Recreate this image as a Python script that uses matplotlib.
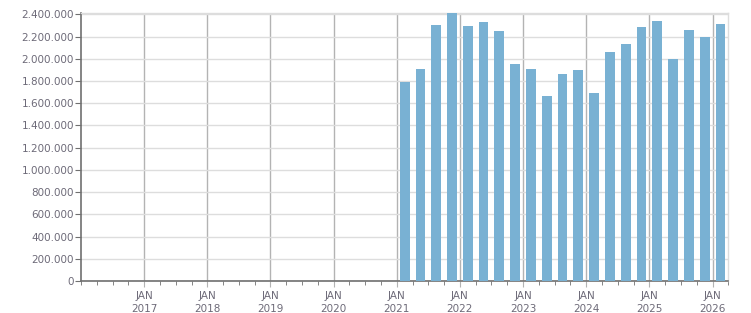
import matplotlib
matplotlib.use('Agg')
import matplotlib.pyplot as plt
from matplotlib.ticker import FuncFormatter, MultipleLocator

# quarterly values, 2021 Q1 .. 2026 Q1
quarters = ["2021-Q1", "2021-Q2", "2021-Q3", "2021-Q4",
            "2022-Q1", "2022-Q2", "2022-Q3", "2022-Q4",
            "2023-Q1", "2023-Q2", "2023-Q3", "2023-Q4",
            "2024-Q1", "2024-Q2", "2024-Q3", "2024-Q4",
            "2025-Q1", "2025-Q2", "2025-Q3", "2025-Q4",
            "2026-Q1"]
values = [1795000, 1913000, 2301000, 2409000,
          2292000, 2328000, 2247000, 1958000,
          1913000, 1669000, 1868000, 1904000,
          1696000, 2066000, 2138000, 2283000,
          2337000, 2003000, 2256000, 2193000,
          2310000]
year_ticks = list(range(2017, 2027))
y_ticks = list(range(0, 2400001, 200000))

# quarter -> decimal year at the middle of the quarter
xpos = [int(q[:4]) + (int(q[-1]) - 1) * 0.25 + 0.125 for q in quarters]

fig = plt.figure(figsize=(7.51, 3.13), dpi=100)
ax = fig.add_axes([81 / 751, 32 / 313, (728.3 - 81) / 751, (281 - 13.3) / 313])

ax.bar(xpos, values, width=0.155, color='#79b1d3', zorder=3)

ax.set_xlim(2016.0, 2026.25)
ax.set_ylim(0, 2410000)

txt_color = '#6d6a78'
ax.set_yticks(y_ticks)
ax.yaxis.set_major_formatter(FuncFormatter(lambda v, p: f"{int(v):,}".replace(",", ".")))
ax.set_xticks(year_ticks)
ax.set_xticklabels([f"JAN\n{y}" for y in year_ticks])
ax.xaxis.set_minor_locator(MultipleLocator(0.25))

ax.grid(axis='y', color='#dddddd', linewidth=1.0, zorder=0)
ax.grid(axis='x', which='major', color='#b3b3b3', linewidth=1.0, zorder=0)

for s in ['left', 'bottom']:
    ax.spines[s].set_color('#707070')
    ax.spines[s].set_linewidth(1.2)
for s in ['top', 'right']:
    ax.spines[s].set_color('#dddddd')
    ax.spines[s].set_linewidth(1.0)

ax.tick_params(axis='y', length=4, color='#707070', labelsize=7.5, labelcolor=txt_color, pad=1)
ax.tick_params(axis='x', which='major', length=4, color='#b3b3b3', labelsize=7.5,
               labelcolor=txt_color, pad=3)
ax.tick_params(axis='x', which='minor', length=3, color='#707070')
for lbl in ax.get_xticklabels():
    lbl.set_linespacing(1.35)

fig.savefig("out.png", dpi=100)
